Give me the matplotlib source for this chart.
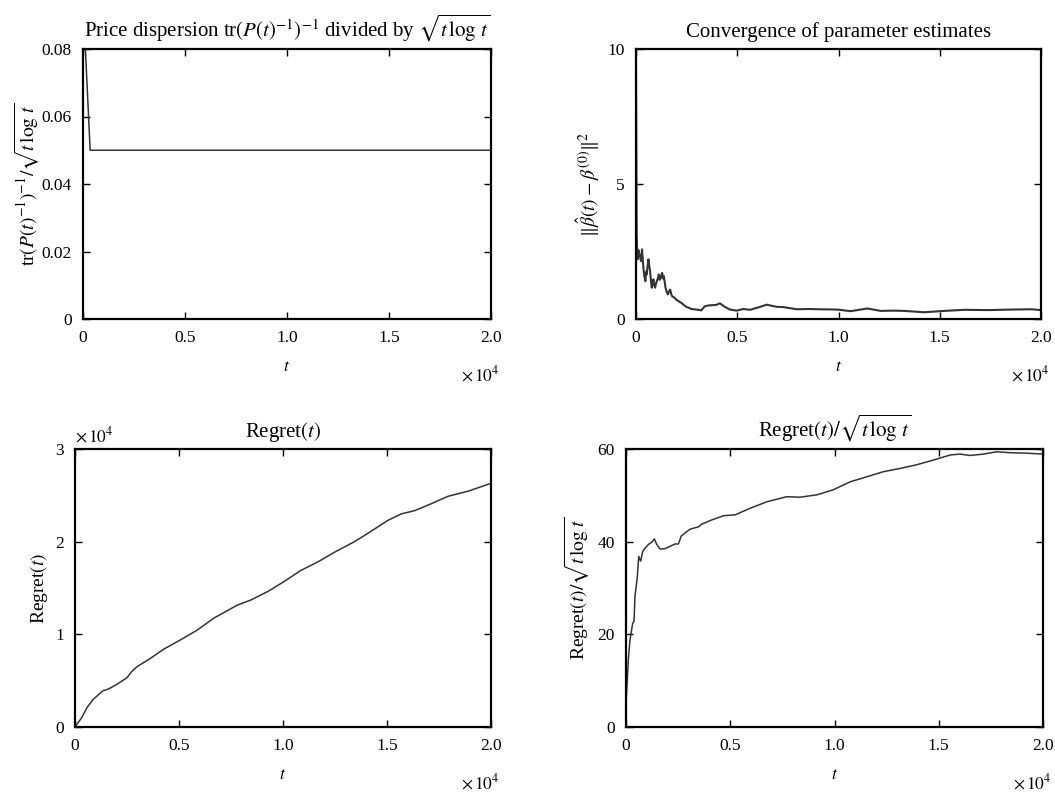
import matplotlib
matplotlib.use("Agg")
import matplotlib.pyplot as plt

plt.rcParams['font.family'] = ['Liberation Serif', 'DejaVu Serif']
plt.rcParams['mathtext.fontset'] = 'stix'
plt.rcParams['font.size'] = 12.5

# price dispersion / sqrt(t log t)
disp_t = [0, 350, 20000]
disp_v = [0.095, 0.05, 0.05]

# ||beta_hat(t) - beta(0)||^2
conv_t = [0, 33, 60, 83, 120, 166, 200, 248, 298, 330, 364, 410, 464, 500, 530, 570,
          613, 650, 695, 740, 778, 820, 861, 900, 944, 985, 1026, 1080, 1126, 1170,
          1209, 1250, 1291, 1330, 1374, 1457, 1520, 1573, 1630, 1689, 1740, 1788, 1880,
          1987, 2100, 2235, 2360, 2483, 2600, 2732, 2980, 3228, 3394, 3560, 3725, 3950,
          4139, 4387, 4636, 4967, 5298, 5629, 6043, 6457, 6954, 7283, 7948, 8500, 9106,
          9935, 10596, 11426, 12087, 12700, 13244, 14238, 15231, 16224, 17387, 18545,
          19538, 20000]
conv_v = [9.3, 3.14, 2.45, 2.21, 2.55, 2.40, 2.30, 2.15, 2.58, 2.25, 1.90, 1.60, 1.40,
          1.75, 1.65, 1.95, 2.21, 2.00, 1.78, 1.40, 1.16, 1.35, 1.47, 1.25, 1.16, 1.30,
          1.40, 1.50, 1.65, 1.45, 1.50, 1.62, 1.71, 1.50, 1.59, 1.16, 1.00, 0.91, 1.02,
          1.09, 0.92, 0.84, 0.80, 0.72, 0.66, 0.60, 0.52, 0.45, 0.42, 0.37, 0.35, 0.32,
          0.47, 0.50, 0.51, 0.52, 0.58, 0.45, 0.35, 0.31, 0.37, 0.34, 0.43, 0.53, 0.45,
          0.44, 0.36, 0.37, 0.36, 0.35, 0.29, 0.39, 0.30, 0.31, 0.30, 0.25, 0.30, 0.34,
          0.33, 0.35, 0.36, 0.33]

# Regret(t), in units of 1e4
reg_t = [0, 320, 595, 885, 1335, 1610, 2010, 2490, 2735, 2975, 3620, 4265, 5070, 5870,
         6675, 7800, 8450, 9250, 10055, 10860, 11665, 12470, 13435, 14080, 15045,
         15690, 16330, 17135, 17940, 18905, 20000]
reg_v = [0, 0.10, 0.216, 0.30, 0.39, 0.41, 0.46, 0.53, 0.60, 0.65, 0.74, 0.84, 0.94,
         1.045, 1.175, 1.315, 1.37, 1.46, 1.57, 1.69, 1.78, 1.885, 2.0, 2.09, 2.23,
         2.30, 2.335, 2.41, 2.49, 2.545, 2.63]

# Regret(t) / sqrt(t log t)
norm_t = [0, 112, 192, 320, 385, 430, 545, 610, 705, 800, 915, 1075, 1235, 1360, 1475,
          1635, 1875, 2115, 2355, 2515, 2645, 2835, 3075, 3480, 3640, 4120, 4680, 5240,
          5947, 6747, 7706, 8345, 9145, 9942, 10743, 11544, 12341, 13141, 13943, 14739,
          15540, 16019, 16499, 17137, 17779, 18417, 19218, 20000]
norm_v = [5, 14.5, 18.8, 22.4, 22.8, 28.2, 32.5, 36.8, 35.8, 37.9, 38.6, 39.4, 39.9,
          40.6, 39.4, 38.4, 38.5, 39.0, 39.5, 39.5, 41.2, 41.9, 42.7, 43.2, 43.8, 44.7,
          45.6, 45.8, 47.2, 48.6, 49.7, 49.6, 50.1, 51.2, 52.9, 54.0, 55.1, 55.8, 56.6,
          57.6, 58.7, 58.9, 58.6, 58.9, 59.4, 59.2, 59.1, 58.9]

xticks = [0, 5000, 10000, 15000, 20000]
xticklabels = ['0', '0.5', '1.0', '1.5', '2.0']

W, H = 1055, 792
fig = plt.figure(figsize=(W / 100, H / 100), dpi=100)


def box(l, r, t, b):
    return [l / W, 1 - b / H, (r - l) / W, (b - t) / H]


ax1 = fig.add_axes(box(83, 491, 49, 319))
ax2 = fig.add_axes(box(636, 1041, 49, 319))
ax3 = fig.add_axes(box(75, 491, 449, 727))
ax4 = fig.add_axes(box(626, 1043, 449, 727))

ax1.plot(disp_t, disp_v, color='#333333', lw=1.1)
ax2.plot(conv_t, conv_v, color='#333333', lw=1.5)
ax3.plot(reg_t, reg_v, color='#333333', lw=1.1)
ax4.plot(norm_t, norm_v, color='#333333', lw=1.1)

ax1.set_ylim(0, 0.08)
ax1.set_yticks([0, 0.02, 0.04, 0.06, 0.08])
ax1.set_yticklabels(['0', '0.02', '0.04', '0.06', '0.08'])
ax2.set_ylim(0, 10)
ax2.set_yticks([0, 5, 10])
ax3.set_ylim(0, 3)
ax3.set_yticks([0, 1, 2, 3])
ax4.set_ylim(0, 60)
ax4.set_yticks([0, 20, 40, 60])

ax1.set_title(r'Price dispersion tr$(P(t)^{-1})^{-1}$ divided by $\sqrt{t\,\log\,t}$', pad=9)
ax2.set_title('Convergence of parameter estimates', pad=9)
ax3.set_title(r'Regret$(t)$', pad=9)
ax4.set_title(r'Regret$(t)/\sqrt{t\,\log\,t}$', pad=9)

ax1.set_ylabel(r'tr$(P(t)^{-1})^{-1}/\sqrt{t\,\log\,t}$', fontsize=14, labelpad=0)
ax2.set_ylabel(r'$\|\hat{\beta}(t)-\beta^{(0)}\|^2$', fontsize=14)
ax3.set_ylabel(r'Regret$(t)$', fontsize=14)
ax4.set_ylabel(r'Regret$(t)/\sqrt{t\,\log\,t}$', fontsize=14)

for ax in (ax1, ax2, ax3, ax4):
    ax.set_xlim(0, 20000)
    ax.set_xticks(xticks)
    ax.set_xticklabels(xticklabels)
    ax.set_xlabel(r'$t$', labelpad=9)
    ax.tick_params(direction='in', length=5, width=1, top=True, right=True,
                   labelsize=12.5, pad=8)
    for s in ax.spines.values():
        s.set_linewidth(1.6)
    ax.annotate(r'$\times\,10^4$', xy=(1.0, 0.0), xycoords='axes fraction',
                xytext=(6, -40), textcoords='offset points',
                ha='right', va='center', fontsize=12.5)

ax3.text(0.0, 1.01, r'$\times\,10^4$', transform=ax3.transAxes,
         ha='left', va='bottom', fontsize=12.5)

fig.savefig('out.png', dpi=100)
